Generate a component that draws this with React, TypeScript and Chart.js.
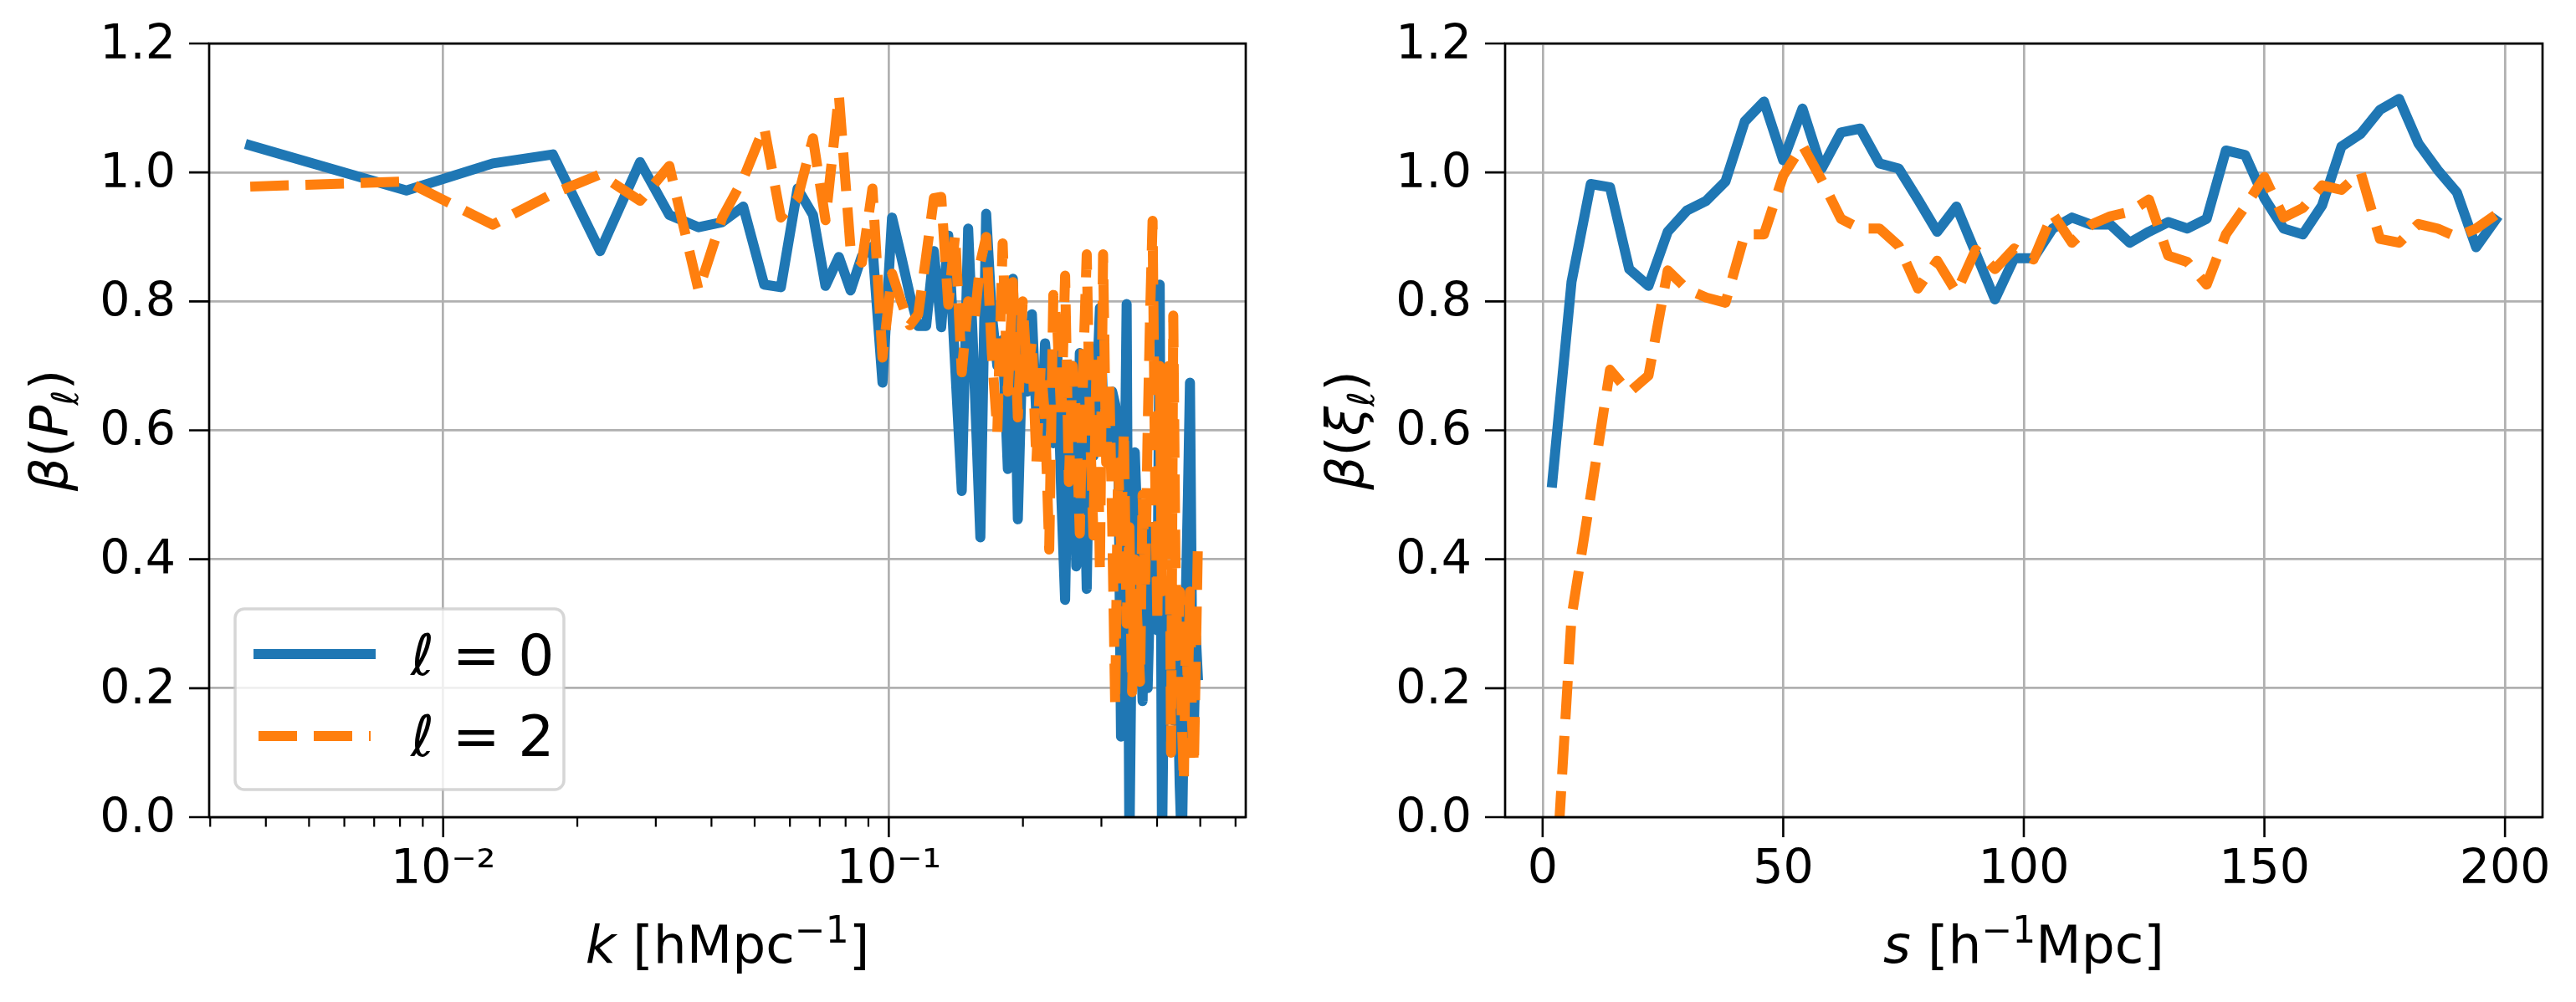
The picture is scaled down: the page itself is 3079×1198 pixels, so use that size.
import React, { useEffect, useRef } from 'react';
import { Chart, registerables } from 'chart.js';

Chart.register(...registerables);

// ---------- data ----------
const kValues = [
  0.00369, 0.00827, 0.01292, 0.01762, 0.0225, 0.02765, 0.03218, 0.03743, 0.04229, 0.04713,
  0.05252, 0.05725, 0.06241, 0.06759, 0.07211, 0.07727, 0.0821, 0.087, 0.0919, 0.0968,
  0.1017, 0.1066, 0.1115, 0.1164, 0.1213, 0.1262, 0.1311, 0.136, 0.1409, 0.1458,
  0.1507, 0.1556, 0.1605, 0.1654, 0.1703, 0.1752, 0.1801, 0.185, 0.1899, 0.1948,
  0.1997, 0.2046, 0.2095, 0.2144, 0.2193, 0.2242, 0.2291, 0.234, 0.2389, 0.2438,
  0.2487, 0.2536, 0.2585, 0.2634, 0.2683, 0.2732, 0.2781, 0.283, 0.2879, 0.2928,
  0.2977, 0.3026, 0.3075, 0.3124, 0.3173, 0.3222, 0.3271, 0.332, 0.3369, 0.3418,
  0.3467, 0.3516, 0.3565, 0.3614, 0.3663, 0.3712, 0.3761, 0.381, 0.3859, 0.3908,
  0.3957, 0.4006, 0.4055, 0.4104, 0.4153, 0.4202, 0.4251, 0.43, 0.4349, 0.4398,
  0.4447, 0.4496, 0.4545, 0.4594, 0.4643, 0.4692, 0.4741, 0.479, 0.4839, 0.4888,
  0.4937,
];

const betaP0 = [
  1.042, 0.972, 1.014, 1.028, 0.878, 1.016, 0.934, 0.915, 0.923, 0.947,
  0.826, 0.822, 0.975, 0.934, 0.824, 0.869, 0.817, 0.87, 0.885, 0.674,
  0.93, 0.87, 0.81, 0.762, 0.762, 0.878, 0.76, 0.902, 0.70, 0.506,
  0.913, 0.68, 0.434, 0.936, 0.78, 0.70, 0.74, 0.54, 0.835, 0.462,
  0.74, 0.66, 0.78, 0.62, 0.571, 0.735, 0.66, 0.58, 0.72, 0.50,
  0.337, 0.66, 0.70, 0.389, 0.72, 0.60, 0.354, 0.68, 0.56, 0.66,
  0.79, 0.64, 0.64, 0.55, 0.66, 0.64, 0.60, 0.125, 0.40, 0.796,
  -0.05, 0.35, 0.566, 0.45, 0.30, 0.18, 0.45, 0.20, 0.35, 0.45,
  0.30, 0.29, 0.826, -0.05, 0.28, 0.30, 0.20, 0.32, 0.15, 0.25,
  0.22, 0.05, -0.05, 0.15, 0.35, 0.50, 0.674, 0.30, 0.14, 0.28,
  0.22,
];

const betaP2 = [
  0.978, 0.986, 0.919, 0.967, 0.997, 0.956, 1.01, 0.817, 0.93, 0.99,
  1.07, 0.93, 0.96, 1.053, 0.926, 1.12, 0.88, 0.86, 0.975, 0.713,
  0.843, 0.80, 0.763, 0.78, 0.87, 0.96, 0.962, 0.795, 0.904, 0.69,
  0.80, 0.77, 0.86, 0.90, 0.72, 0.597, 0.89, 0.66, 0.83, 0.62,
  0.80, 0.68, 0.74, 0.55, 0.70, 0.62, 0.415, 0.81, 0.76, 0.62,
  0.84, 0.52, 0.70, 0.62, 0.44, 0.70, 0.873, 0.60, 0.437, 0.72,
  0.38, 0.873, 0.55, 0.68, 0.45, 0.172, 0.55, 0.42, 0.60, 0.30,
  0.45, 0.194, 0.40, 0.30, 0.21, 0.50, 0.35, 0.60, 0.78, 0.925,
  0.55, 0.30, 0.70, 0.35, 0.60, 0.45, 0.70, 0.10, 0.778, 0.40,
  0.25, 0.35, 0.15, 0.055, 0.30, 0.20, 0.35, 0.15, 0.081, 0.25,
  0.415,
];

const sValues = [
  2, 6, 10, 14, 18, 22, 26, 30, 34, 38,
  42, 46, 50, 54, 58, 62, 66, 70, 74, 78,
  82, 86, 90, 94, 98, 102, 106, 110, 114, 118,
  122, 126, 130, 134, 138, 142, 146, 150, 154, 158,
  162, 166, 170, 174, 178, 182, 186, 190, 194, 198,
];

const betaXi0 = [
  0.519, 0.830, 0.982, 0.977, 0.850, 0.824, 0.908, 0.941, 0.956, 0.986,
  1.079, 1.110, 1.019, 1.099, 1.006, 1.062, 1.068, 1.014, 1.006, 0.958,
  0.908, 0.947, 0.875, 0.803, 0.867, 0.867, 0.913, 0.930, 0.919, 0.919,
  0.891, 0.908, 0.923, 0.913, 0.928, 1.034, 1.027, 0.960, 0.913, 0.904,
  0.949, 1.040, 1.060, 1.097, 1.114, 1.045, 1.004, 0.969, 0.884, 0.926,
];

const betaXi2 = [
  -0.19, 0.31, 0.50, 0.694, 0.659, 0.685, 0.848, 0.819, 0.806, 0.798,
  0.904, 0.904, 0.995, 1.042, 0.988, 0.928, 0.913, 0.913, 0.886, 0.820,
  0.863, 0.814, 0.880, 0.850, 0.882, 0.865, 0.936, 0.891, 0.919, 0.932,
  0.939, 0.958, 0.871, 0.861, 0.826, 0.904, 0.947, 0.993, 0.930, 0.945,
  0.980, 0.973, 1.000, 0.897, 0.891, 0.920, 0.913, 0.900, 0.913, 0.934,
];

const yTickValues = [0, 0.2, 0.4, 0.6, 0.8, 1.0, 1.2];
const kMajorTicks = [0.01, 0.1];
const kTickLabels = ['10\u207B\u00B2', '10\u207B\u00B9'];
const kMinorTicks = [
  0.003, 0.004, 0.005, 0.006, 0.007, 0.008, 0.009,
  0.02, 0.03, 0.04, 0.05, 0.06, 0.07, 0.08, 0.09,
  0.2, 0.3, 0.4, 0.5, 0.6,
];
const sTickValues = [0, 50, 100, 150, 200];
const sTickLabels = ['0', '50', '100', '150', '200'];
const legendLabels = ['\u2113 = 0', '\u2113 = 2'];

// ---------- style ----------
const BLUE = '#1f77b4';
const ORANGE = '#ff7f0e';
const FAMILY = "'DejaVu Sans', 'Noto Sans', sans-serif";
const H = 1198;
const TICK_FONT = 57;
const LABEL_FONT = 63;
const LEGEND_FONT = 68;
const GRID_W = 2.7;

type Part = { t: string; it?: boolean; sc?: number; dy?: number };

function fontOf(p: Part, size: number) {
  return `${p.it ? 'italic ' : ''}${Math.round(size * (p.sc || 1))}px ${FAMILY}`;
}

function drawRich(ctx: CanvasRenderingContext2D, parts: Part[], x: number, y: number, size: number, align: 'center' | 'left') {
  let total = 0;
  for (const p of parts) {
    ctx.font = fontOf(p, size);
    total += ctx.measureText(p.t).width;
  }
  let cx = align === 'center' ? x - total / 2 : x;
  ctx.textAlign = 'left';
  ctx.textBaseline = 'alphabetic';
  for (const p of parts) {
    ctx.font = fontOf(p, size);
    ctx.fillText(p.t, cx, y + (p.dy || 0));
    cx += ctx.measureText(p.t).width;
  }
}

type PanelCfg = {
  width: number;
  left: number;
  right: number;
  top: number;
  bottom: number;
  xType: 'logarithmic' | 'linear';
  xMin: number;
  xMax: number;
  xTicks: number[];
  xLabels: string[];
  xMinor: number[];
  xs: number[];
  y0: number[];
  y2: number[];
  xTitle: Part[];
  yTitle: Part[];
  yTitleX: number;
  legend: boolean;
};

function makeDecor(cfg: PanelCfg) {
  return {
    id: 'decor',
    afterDraw(chart: any) {
      const { ctx, chartArea: a, scales } = chart;
      ctx.save();
      // spines
      ctx.strokeStyle = '#000';
      ctx.lineWidth = GRID_W;
      ctx.setLineDash([]);
      ctx.strokeRect(a.left, a.top, a.right - a.left, a.bottom - a.top);
      // y ticks
      ctx.lineWidth = 2.6;
      ctx.beginPath();
      for (const v of yTickValues) {
        const py = scales.y.getPixelForValue(v);
        ctx.moveTo(a.left - 24, py);
        ctx.lineTo(a.left, py);
      }
      // x major ticks
      for (const v of cfg.xTicks) {
        const px = scales.x.getPixelForValue(v);
        ctx.moveTo(px, a.bottom);
        ctx.lineTo(px, a.bottom + 24);
      }
      ctx.stroke();
      // x minor ticks
      ctx.lineWidth = 2.2;
      ctx.beginPath();
      for (const v of cfg.xMinor) {
        const px = scales.x.getPixelForValue(v);
        ctx.moveTo(px, a.bottom);
        ctx.lineTo(px, a.bottom + 11.5);
      }
      ctx.stroke();

      // axis titles
      ctx.fillStyle = '#000';
      drawRich(ctx, cfg.xTitle, (a.left + a.right) / 2, 1151, LABEL_FONT, 'center');
      ctx.save();
      ctx.translate(cfg.yTitleX, (a.top + a.bottom) / 2);
      ctx.rotate(-Math.PI / 2);
      drawRich(ctx, cfg.yTitle, 0, 0, LABEL_FONT, 'center');
      ctx.restore();

      // legend
      if (cfg.legend) {
        const lx = 281, ly = 728, lw = 393, lh = 216, r = 11;
        ctx.beginPath();
        ctx.moveTo(lx + r, ly);
        ctx.arcTo(lx + lw, ly, lx + lw, ly + lh, r);
        ctx.arcTo(lx + lw, ly + lh, lx, ly + lh, r);
        ctx.arcTo(lx, ly + lh, lx, ly, r);
        ctx.arcTo(lx, ly, lx + lw, ly, r);
        ctx.closePath();
        ctx.fillStyle = 'rgba(255,255,255,0.8)';
        ctx.fill();
        ctx.strokeStyle = 'rgba(204,204,204,0.8)';
        ctx.lineWidth = 3.5;
        ctx.stroke();

        ctx.lineWidth = 12;
        ctx.strokeStyle = BLUE;
        ctx.lineCap = 'square';
        ctx.beginPath();
        ctx.moveTo(309, 782);
        ctx.lineTo(443, 782);
        ctx.stroke();

        ctx.strokeStyle = ORANGE;
        ctx.lineCap = 'butt';
        ctx.setLineDash([46, 20]);
        ctx.beginPath();
        ctx.moveTo(309, 880);
        ctx.lineTo(443, 880);
        ctx.stroke();
        ctx.setLineDash([]);

        ctx.fillStyle = '#000';
        const rows = [807, 904];
        legendLabels.forEach((lab, i) => {
          const sym = lab.slice(0, 1);
          const rest = lab.slice(1);
          drawRich(ctx, [{ t: sym, it: true }, { t: rest }], 491, rows[i], LEGEND_FONT, 'left');
        });
      }
      ctx.restore();
    },
  };
}

function buildChart(canvas: HTMLCanvasElement, cfg: PanelCfg) {
  const tickFont = { family: FAMILY, size: TICK_FONT };
  const zeroPad = (s: any) => {
    s.paddingLeft = 0;
    s.paddingRight = 0;
    s.paddingTop = 0;
    s.paddingBottom = 0;
  };
  return new Chart(canvas, {
    type: 'line',
    data: {
      datasets: [
        {
          label: legendLabels[0],
          data: cfg.xs.map((x, i) => ({ x, y: cfg.y0[i] })),
          borderColor: BLUE,
          backgroundColor: BLUE,
          borderWidth: 12,
          pointRadius: 0,
          borderCapStyle: 'square',
          borderJoinStyle: 'round',
          tension: 0,
          fill: false,
          clip: 0,
          order: 1,
        } as any,
        {
          label: legendLabels[1],
          data: cfg.xs.map((x, i) => ({ x, y: cfg.y2[i] })),
          borderColor: ORANGE,
          backgroundColor: ORANGE,
          borderWidth: 12,
          borderDash: [46, 20],
          pointRadius: 0,
          borderCapStyle: 'butt',
          borderJoinStyle: 'round',
          tension: 0,
          fill: false,
          clip: 0,
          order: 0,
        } as any,
      ],
    },
    options: {
      animation: false,
      responsive: false,
      events: [],
      layout: { padding: { left: 0, top: cfg.top, right: cfg.width - cfg.right, bottom: 0 } },
      plugins: { legend: { display: false }, tooltip: { enabled: false }, title: { display: false } },
      scales: {
        x: {
          type: cfg.xType,
          min: cfg.xMin,
          max: cfg.xMax,
          afterBuildTicks: (s: any) => {
            s.ticks = cfg.xTicks.map((v) => ({ value: v }));
          },
          afterFit: (s: any) => {
            s.height = H - cfg.bottom;
            zeroPad(s);
          },
          ticks: {
            autoSkip: false,
            maxRotation: 0,
            minRotation: 0,
            padding: 30,
            color: '#000',
            font: tickFont,
            callback: (_v: any, i: number) => cfg.xLabels[i],
          },
          grid: { color: '#b0b0b0', lineWidth: GRID_W, drawTicks: false },
          border: { display: false },
        } as any,
        y: {
          type: 'linear',
          min: 0,
          max: 1.2,
          afterBuildTicks: (s: any) => {
            s.ticks = yTickValues.map((v) => ({ value: v }));
          },
          afterFit: (s: any) => {
            s.width = cfg.left;
            zeroPad(s);
          },
          ticks: {
            padding: 40,
            labelOffset: 3,
            color: '#000',
            font: tickFont,
            callback: (v: any) => Number(v).toFixed(1),
          },
          grid: { color: '#b0b0b0', lineWidth: GRID_W, drawTicks: false },
          border: { display: false },
        } as any,
      },
    },
    plugins: [makeDecor(cfg)],
  });
}

const leftCfg: PanelCfg = {
  width: 1560,
  left: 250,
  right: 1489,
  top: 52,
  bottom: 977,
  xType: 'logarithmic',
  xMin: 0.002984,
  xMax: 0.6325,
  xTicks: kMajorTicks,
  xLabels: kTickLabels,
  xMinor: kMinorTicks,
  xs: kValues,
  y0: betaP0,
  y2: betaP2,
  xTitle: [{ t: 'k', it: true }, { t: ' [hMpc' }, { t: '\u22121', sc: 0.7, dy: -24 }, { t: ']' }],
  yTitle: [{ t: '\u03B2', it: true }, { t: '(' }, { t: 'P', it: true }, { t: '\u2113', it: true, sc: 0.7, dy: 13 }, { t: ')' }],
  yTitleX: 80,
  legend: true,
};

const rightCfg: PanelCfg = {
  width: 1519,
  left: 239,
  right: 1479,
  top: 52,
  bottom: 977,
  xType: 'linear',
  xMin: -7.8,
  xMax: 207.8,
  xTicks: sTickValues,
  xLabels: sTickLabels,
  xMinor: [],
  xs: sValues,
  y0: betaXi0,
  y2: betaXi2,
  xTitle: [{ t: 's', it: true }, { t: ' [h' }, { t: '\u22121', sc: 0.7, dy: -24 }, { t: 'Mpc]' }],
  yTitle: [{ t: '\u03B2', it: true }, { t: '(' }, { t: '\u03BE', it: true }, { t: '\u2113', it: true, sc: 0.7, dy: 13 }, { t: ')' }],
  yTitleX: 69,
  legend: false,
};

export default function App() {
  const leftRef = useRef<HTMLCanvasElement>(null);
  const rightRef = useRef<HTMLCanvasElement>(null);

  useEffect(() => {
    const c1 = buildChart(leftRef.current as HTMLCanvasElement, leftCfg);
    const c2 = buildChart(rightRef.current as HTMLCanvasElement, rightCfg);
    return () => {
      c1.destroy();
      c2.destroy();
    };
  }, []);

  return (
    <div style={{ position: 'fixed', left: 0, top: 0, width: 3079, height: H, background: '#fff', overflow: 'hidden' }}>
      <canvas ref={leftRef} width={1560} height={H} style={{ position: 'absolute', left: 0, top: 0, width: 1560, height: H }} />
      <canvas ref={rightRef} width={1519} height={H} style={{ position: 'absolute', left: 1560, top: 0, width: 1519, height: H }} />
    </div>
  );
}
